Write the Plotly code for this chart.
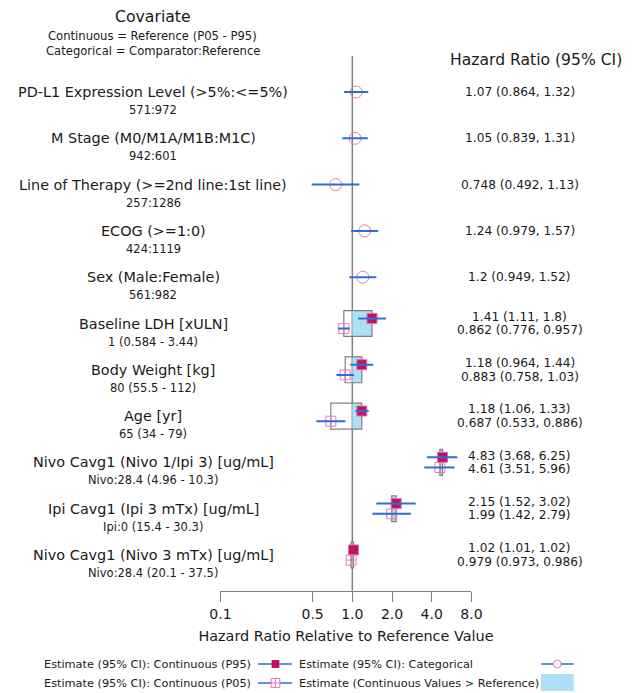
import plotly.graph_objects as go

W, H = 633, 693

# ---------------- data ----------------
cat_labels = ["PD-L1 Expression Level (>5%:<=5%)", "M Stage (M0/M1A/M1B:M1C)",
              "Line of Therapy (>=2nd line:1st line)", "ECOG (>=1:0)", "Sex (Male:Female)"]
cat_sub = ["571:972", "942:601", "257:1286", "424:1119", "561:982"]
cat_est = [1.07, 1.05, 0.748, 1.24, 1.2]
cat_lo = [0.864, 0.839, 0.492, 0.979, 0.949]
cat_hi = [1.32, 1.31, 1.13, 1.57, 1.52]

cont_labels = ["Baseline LDH [xULN]", "Body Weight [kg]", "Age [yr]",
               "Nivo Cavg1 (Nivo 1/Ipi 3) [ug/mL]", "Ipi Cavg1 (Ipi 3 mTx) [ug/mL]",
               "Nivo Cavg1 (Nivo 3 mTx) [ug/mL]"]
cont_sub = ["1 (0.584 - 3.44)", "80 (55.5 - 112)", "65 (34 - 79)",
            "Nivo:28.4 (4.96 - 10.3)", "Ipi:0 (15.4 - 30.3)", "Nivo:28.4 (20.1 - 37.5)"]
p95_est = [1.41, 1.18, 1.18, 4.83, 2.15, 1.02]
p95_lo = [1.11, 0.964, 1.06, 3.68, 1.52, 1.01]
p95_hi = [1.8, 1.44, 1.33, 6.25, 3.02, 1.02]
p05_est = [0.862, 0.883, 0.687, 4.61, 1.99, 0.979]
p05_lo = [0.776, 0.758, 0.533, 3.51, 1.42, 0.973]
p05_hi = [0.957, 1.03, 0.886, 5.96, 2.79, 0.986]

tick_vals = [0.1, 0.5, 1, 2, 4, 8]
tick_text = ["0.1", "0.5", "1.0", "2.0", "4.0", "8.0"]

# ---------------- style ----------------
FONT = "DejaVu Sans"
TXT = "#1a1a1a"
BLUE = "#2b6fd3"
PINK = "#e77bb6"
CRIMSON = "#c0125f"
BOXBLUE = "#addff7"
GRAY = "#808080"

def px(x):
    return x / W

def py(y):
    return 1 - y / H

cat_rows = list(range(1, len(cat_est) + 1))
cont_rows = [len(cat_est) + 1 + i for i in range(len(p95_est))]
off = 0.11
p95_rows = [r - off for r in cont_rows]
p05_rows = [r + off for r in cont_rows]

fig = go.Figure()

fig.add_trace(go.Scatter(x=cat_est, y=cat_rows, mode="markers", showlegend=False,
                         marker=dict(symbol="circle-open", size=12, color=PINK,
                                     line=dict(width=1, color=PINK))))
fig.add_trace(go.Scatter(x=p95_est, y=p95_rows, mode="markers", showlegend=False,
                         marker=dict(symbol="square", size=10, color=CRIMSON,
                                     line=dict(width=1, color="#e36fa8"))))
fig.add_trace(go.Scatter(x=p05_est, y=p05_rows, mode="markers", showlegend=False,
                         marker=dict(symbol="square-cross-open", size=10, color=PINK,
                                     line=dict(width=1, color=PINK))))

lx, ly = [], []
for lo, hi, r in list(zip(cat_lo, cat_hi, cat_rows)) + list(zip(p95_lo, p95_hi, p95_rows)) + \
        list(zip(p05_lo, p05_hi, p05_rows)):
    lx += [lo, hi, None]
    ly += [r, r, None]
fig.add_trace(go.Scatter(x=lx, y=ly, mode="lines", showlegend=False,
                         line=dict(color=BLUE, width=2)))

shapes = []
bh = 0.28
for a, b, r in zip(p05_est, p95_est, cont_rows):
    lo, hi = min(a, b), max(a, b)
    if hi > 1:
        shapes.append(dict(type="rect", xref="x", yref="y", x0=max(lo, 1), x1=hi,
                           y0=r - bh, y1=r + bh, fillcolor=BOXBLUE,
                           line=dict(width=0), layer="below"))
    shapes.append(dict(type="rect", xref="x", yref="y", x0=lo, x1=hi,
                       y0=r - bh, y1=r + bh, fillcolor="rgba(0,0,0,0)",
                       line=dict(width=1.2, color=GRAY), layer="below"))
shapes.append(dict(type="line", xref="x", yref="y domain", x0=1, x1=1, y0=0, y1=1,
                   line=dict(color=GRAY, width=1.5), layer="below"))

ann = []

def text(x, y, s, size, yref="paper", xanchor="center"):
    ann.append(dict(x=x, y=y, xref="paper", yref=yref, text=s, showarrow=False,
                    xanchor=xanchor, yanchor="middle",
                    font=dict(family=FONT, size=size, color=TXT)))

# headers
text(px(147), py(17), "Covariate", 15.7)
text(px(147), py(36), "Continuous = Reference (P05 - P95)", 11.6)
text(px(147), py(51), "Categorical = Comparator:Reference", 11.6)
text(px(544), py(60), "Hazard Ratio (95% CI)", 15.6)

sub_off = 0.39
val_off = 0.145
for lab, sub, r, e, lo, hi in zip(cat_labels, cat_sub, cat_rows, cat_est, cat_lo, cat_hi):
    text(px(147.5), r, lab, 14.4, yref="y")
    text(px(147.5), r + sub_off, sub, 11.5, yref="y")
    text(px(527), r, f"{e:.3g} ({lo:.3g}, {hi:.3g})", 12.2, yref="y")
for i, r in enumerate(cont_rows):
    text(px(147.5), r, cont_labels[i], 14.4, yref="y")
    text(px(147.5), r + sub_off, cont_sub[i], 11.5, yref="y")
    text(px(527), r - val_off, f"{p95_est[i]:.3g} ({p95_lo[i]:.3g}, {p95_hi[i]:.3g})", 12.2, yref="y")
    text(px(527), r + val_off, f"{p05_est[i]:.3g} ({p05_lo[i]:.3g}, {p05_hi[i]:.3g})", 12.2, yref="y")

# ---------------- manual legend ----------------
r1, r2 = 664, 683
LF = 11.3
text(px(32), py(r1), "Estimate (95% CI): Continuous (P95)", LF, xanchor="left")
text(px(32), py(r2), "Estimate (95% CI): Continuous (P05)", LF, xanchor="left")
text(px(296.5), py(r1), "Estimate (95% CI): Categorical", LF, xanchor="left")
text(px(296.5), py(r2), "Estimate (Continuous Values > Reference)", LF, xanchor="left")

def pline(x0, x1, y):
    shapes.append(dict(type="line", xref="paper", yref="paper", x0=px(x0), x1=px(x1),
                       y0=py(y), y1=py(y), line=dict(color=BLUE, width=1.5)))

for y in (r1, r2):
    pline(256, 291, y)
pline(549, 583, r1)
# filled square
shapes.append(dict(type="rect", xref="paper", yref="paper", x0=px(270), x1=px(278),
                   y0=py(r1 + 4), y1=py(r1 - 4), fillcolor=CRIMSON, line=dict(width=0)))
# square cross open
shapes.append(dict(type="rect", xref="paper", yref="paper", x0=px(269.5), x1=px(278.5),
                   y0=py(r2 + 4.5), y1=py(r2 - 4.5), fillcolor="white",
                   line=dict(width=1, color=PINK)))
shapes.append(dict(type="line", xref="paper", yref="paper", x0=px(274), x1=px(274),
                   y0=py(r2 + 4.5), y1=py(r2 - 4.5), line=dict(width=1, color=PINK)))
shapes.append(dict(type="line", xref="paper", yref="paper", x0=px(269.5), x1=px(278.5),
                   y0=py(r2), y1=py(r2), line=dict(width=1, color=PINK)))
# circle
shapes.append(dict(type="circle", xref="paper", yref="paper", x0=px(562), x1=px(570),
                   y0=py(r1 + 4), y1=py(r1 - 4), fillcolor="white",
                   line=dict(width=1, color=PINK)))
# blue box
shapes.append(dict(type="rect", xref="paper", yref="paper", x0=px(549), x1=px(583),
                   y0=py(691), y1=py(674), fillcolor=BOXBLUE, line=dict(width=0)))

fig.update_layout(
    width=W, height=H, autosize=False,
    margin=dict(l=0, r=0, t=0, b=0),
    paper_bgcolor="white", plot_bgcolor="white",
    font=dict(family=FONT, color=TXT),
    showlegend=False,
    shapes=shapes, annotations=ann,
    xaxis=dict(type="log", range=[-1, 0.90309], domain=[px(217), px(477)],
               tickvals=tick_vals, ticktext=tick_text, ticks="outside", ticklen=10,
               tickcolor=GRAY, showline=True, linecolor=GRAY, linewidth=1,
               showgrid=False, zeroline=False,
               tickfont=dict(family=FONT, size=14, color=TXT),
               title=dict(text="Hazard Ratio Relative to Reference Value",
                          font=dict(family=FONT, size=14.4, color=TXT), standoff=10)),
    yaxis=dict(range=[11.771, 0.2225], domain=[py(590.7), py(56)],
               showticklabels=False, showgrid=False, zeroline=False, showline=False,
               ticks=""),
)

fig.write_html("out.html")
